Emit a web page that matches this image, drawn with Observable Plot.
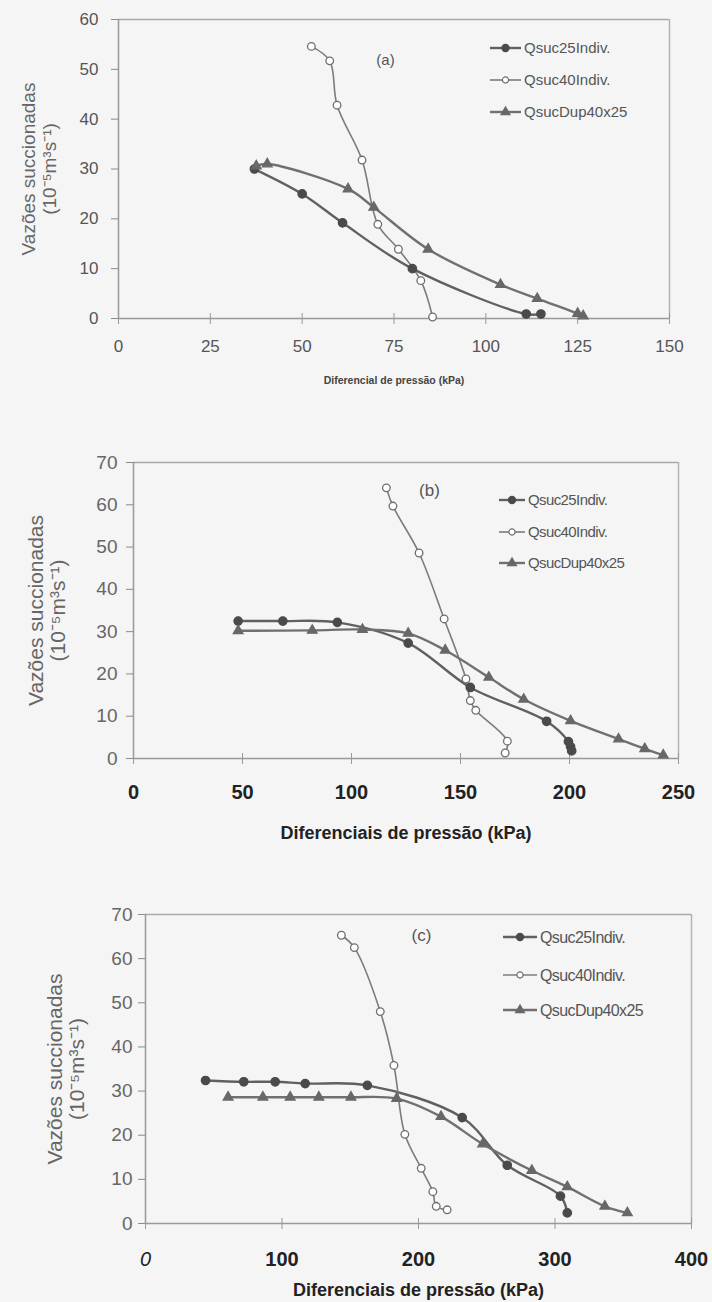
<!DOCTYPE html>
<html><head><meta charset="utf-8">
<script src="https://cdn.jsdelivr.net/npm/d3@7"></script>
<script src="https://cdn.jsdelivr.net/npm/@observablehq/plot@0.6"></script>
<style>
html,body{margin:0;padding:0;background:#f5f5f5;}
body{width:712px;height:1302px;overflow:hidden;font-family:"Liberation Sans",Arial,sans-serif;}
#chart svg{display:block;}
</style></head>
<body><div id="chart"></div>
<script>
// ---- texts ----
const seriesNames = ["Qsuc25Indiv.", "Qsuc40Indiv.", "QsucDup40x25"];
const yTitle = "Vazões succionadas";
const yUnit = "(10⁻⁵m³s⁻¹)";
const xTitleA = "Diferencial de pressão (kPa)";
const xTitleBC = "Diferenciais de pressão (kPa)";
const panelTags = ["(a)", "(b)", "(c)"];

// ---- tick values ----
const xTicksA = [0, 25, 50, 75, 100, 125, 150];
const yTicksA = [0, 10, 20, 30, 40, 50, 60];
const xTicksB = [0, 50, 100, 150, 200, 250];
const yTicksB = [0, 10, 20, 30, 40, 50, 60, 70];
const xTicksC = [0, 100, 200, 300, 400];
const yTicksC = [0, 10, 20, 30, 40, 50, 60, 70];

// ---- panel (a) data [kPa, 10^-5 m3/s] ----
const aQsuc25 = [[37,30],[50,25],[61,19.2],[80,10],[111,0.9],[115,0.9]];
const aQsuc40 = [[52.5,54.6],[57.5,51.7],[59.5,42.8],[66.3,31.8],[70.6,18.9],[76.2,13.9],[82.3,7.6],[85.5,0.3]];
const aDup = [[37.5,30.6],[40.5,31],[62.5,26],[69.5,22.3],[84.3,13.9],[104,6.8],[114,4],[125,1],[126.5,0.5]];

// ---- panel (b) data ----
const bQsuc25 = [[48,32.5],[68.5,32.5],[93.5,32.2],[126,27.3],[154.5,16.8],[189.5,8.8],[199.5,4],[200.5,2.8],[201,1.8]];
const bQsuc40 = [[116,64],[119,59.7],[131,48.6],[142.5,33],[152.5,18.8],[154.5,13.7],[157,11.4],[171.5,4.1],[170.5,1.3]];
const bDup = [[48,30.2],[82,30.3],[105,30.5],[126,29.6],[143,25.6],[163,19.2],[179,14],[200.5,8.9],[222.5,4.6],[234.5,2.3],[243,0.8]];

// ---- panel (c) data ----
const cQsuc25 = [[44,32.4],[72,32.1],[95,32.1],[117,31.7],[162.5,31.3],[232,24],[265,13.2],[304,6.2],[309,2.4]];
const cQsuc40 = [[143.5,65.3],[153,62.5],[172,48],[182,35.8],[190,20.2],[202,12.5],[210.5,7.2],[213,3.9],[221,3.1]];
const cDup = [[60.5,28.6],[86,28.6],[106,28.6],[127,28.6],[150.5,28.6],[184,28.3],[216.5,24.2],[247,18],[283,12],[309,8.3],[336.5,3.9],[353,2.4]];

// ---- series styles ----
const seriesStyle = [
  {line: "#606060", lw: 2.4, symbol: "circle", fill: "#4a4a4a", stroke: "#4a4a4a", r: 4.2},
  {line: "#7c7c7c", lw: 1.6, symbol: "circle", fill: "#ffffff", stroke: "#6e6e6e", r: 3.8},
  {line: "#707070", lw: 2.4, symbol: "triangle", fill: "#686868", stroke: "#686868", r: 3.6}
];

const toRows = s => s.map(([x, y]) => ({x, y}));
const FONT = "Liberation Sans, Arial, sans-serif";

function makePanel(p) {
  const marks = [
    Plot.ruleY([p.yDomain[1]], {stroke: "#aaaaaa", strokeWidth: 1.5}),
    Plot.ruleX([p.xDomain[1]], {stroke: "#b4b4b4", strokeWidth: 1.5}),
    Plot.ruleX([0], {stroke: "#999999", strokeWidth: 1.5}),
    Plot.ruleY([0], {stroke: "#999999", strokeWidth: 1.5}),
    Plot.axisY({ticks: p.yTicks, tickSize: 7, tickPadding: p.yPad, label: null,
      stroke: "#8a8a8a", fill: p.yTickColor, fontSize: p.yTickSize, tickFormat: d => String(d)}),
    Plot.axisX({ticks: p.xTicks, tickSize: 11, dy: -5, tickPadding: p.xPad, label: null,
      stroke: "#9a9a9a", fill: p.xTickColor, fontSize: p.xTickSize, fontWeight: p.xTickWeight,
      tickFormat: d => String(d)}),
    Plot.text([yTitle], {frameAnchor: "left", textAnchor: "middle", lineAnchor: "middle",
      dx: p.yTitleDx, rotate: -90, fontSize: p.yTitleSize, fill: "#666666"}),
    Plot.text([yUnit], {frameAnchor: "left", textAnchor: "middle", lineAnchor: "middle",
      dx: p.yUnitDx, rotate: -90, fontSize: p.yTitleSize, fill: "#666666"}),
    Plot.text([p.xTitle], {frameAnchor: "bottom", textAnchor: "middle", lineAnchor: "middle",
      dy: p.xTitleDy, fontSize: p.xTitleSize, fontWeight: "bold", fill: p.xTitleColor}),
    Plot.text([p.tag], {frameAnchor: "top-left", textAnchor: "middle", lineAnchor: "middle",
      dx: p.tagDx, dy: p.tagDy, fontSize: p.tagSize, fill: "#555555"})
  ];
  p.series.forEach((s, i) => {
    const st = seriesStyle[i];
    marks.push(Plot.line(toRows(s), {x: "x", y: "y", stroke: st.line, strokeWidth: st.lw, curve: "catmull-rom"}));
  });
  p.series.forEach((s, i) => {
    const st = seriesStyle[i];
    marks.push(Plot.dot(toRows(s), {x: "x", y: "y", symbol: st.symbol, r: st.r,
      fill: st.fill, stroke: st.stroke, strokeWidth: 1.3}));
  });
  const chart = Plot.plot({
    width: 712, height: p.height,
    marginTop: p.mt, marginBottom: p.mb, marginLeft: p.ml, marginRight: p.mr,
    x: {domain: p.xDomain},
    y: {domain: p.yDomain},
    style: {background: "transparent", fontFamily: FONT, overflow: "visible"},
    marks
  });
  // legend
  const svg = d3.select(chart);
  const g = svg.append("g").attr("font-family", FONT).attr("text-anchor", "start");
  seriesNames.forEach((name, i) => {
    const st = seriesStyle[i];
    const y = p.legRows[i];
    g.append("line").attr("x1", p.legX0).attr("x2", p.legX1).attr("y1", y).attr("y2", y)
      .attr("stroke", st.line).attr("stroke-width", st.lw);
    const sym = st.symbol === "triangle" ? d3.symbolTriangle : d3.symbolCircle;
    const area = st.symbol === "triangle" ? 34 : (i === 0 ? 40 : 30);
    g.append("path").attr("d", d3.symbol(sym, area)())
      .attr("transform", `translate(${(p.legX0 + p.legX1) / 2},${y})`)
      .attr("fill", st.fill).attr("stroke", st.stroke).attr("stroke-width", 1.2);
    g.append("text").attr("x", p.legX1 + 3).attr("y", y).attr("dy", "0.35em")
      .attr("text-anchor", "start")
      .attr("font-size", p.legSize).attr("fill", "#555").attr("letter-spacing", p.legSpacing)
      .text(name);
  });
  if (p.italicZero) {
    svg.selectAll("g[aria-label='x-axis tick label'] text").each(function() {
      if (this.textContent.trim() === "0") {
        d3.select(this).attr("font-style", "italic").attr("font-weight", "normal");
      }
    });
  }
  return chart;
}

const panels = [
  {series: [aQsuc25, aQsuc40, aDup], xDomain: [0, 150], yDomain: [0, 60], xTicks: xTicksA, yTicks: yTicksA,
   height: 400, mt: 19, mb: 82, ml: 118, mr: 43,
   yPad: 13, yTickColor: "#555", yTickSize: 17,
   xPad: 15, xTickColor: "#555", xTickSize: 17, xTickWeight: "normal",
   yTitleDx: -90, yUnitDx: -69, yTitleSize: 19,
   xTitle: xTitleA, xTitleDy: 62, xTitleSize: 10.5, xTitleColor: "#444",
   tag: panelTags[0], tagDx: 267, tagDy: 41, tagSize: 15,
   legX0: 490, legX1: 521, legRows: [48, 80, 112], legSize: 15, legSpacing: 0},
  {series: [bQsuc25, bQsuc40, bDup], xDomain: [0, 250], yDomain: [0, 70], xTicks: xTicksB, yTicks: yTicksB,
   height: 440, mt: 62, mb: 82, ml: 133, mr: 34,
   yPad: 9, yTickColor: "#666", yTickSize: 19,
   xPad: 20, xTickColor: "#222", xTickSize: 20, xTickWeight: "bold",
   yTitleDx: -97, yUnitDx: -75, yTitleSize: 21,
   xTitle: xTitleBC, xTitleDy: 75, xTitleSize: 18, xTitleColor: "#222",
   tag: panelTags[1], tagDx: 296, tagDy: 28, tagSize: 17,
   legX0: 499, legX1: 525, legRows: [100, 132, 163], legSize: 15, legSpacing: -0.6},
  {series: [cQsuc25, cQsuc40, cDup], xDomain: [0, 400], yDomain: [0, 70], xTicks: xTicksC, yTicks: yTicksC,
   height: 462, mt: 74, mb: 79, ml: 145, mr: 21,
   yPad: 6, yTickColor: "#666", yTickSize: 19,
   xPad: 22, xTickColor: "#222", xTickSize: 20, xTickWeight: "bold",
   yTitleDx: -90, yUnitDx: -68, yTitleSize: 21,
   xTitle: xTitleBC, xTitleDy: 67, xTitleSize: 18, xTitleColor: "#222",
   tag: panelTags[2], tagDx: 276, tagDy: 21, tagSize: 17,
   legX0: 503, legX1: 537, legRows: [97, 135, 170], legSize: 16, legSpacing: -0.6, italicZero: true}
];

const root = document.getElementById("chart");
panels.forEach(p => root.appendChild(makePanel(p)));
</script>
</body></html>
